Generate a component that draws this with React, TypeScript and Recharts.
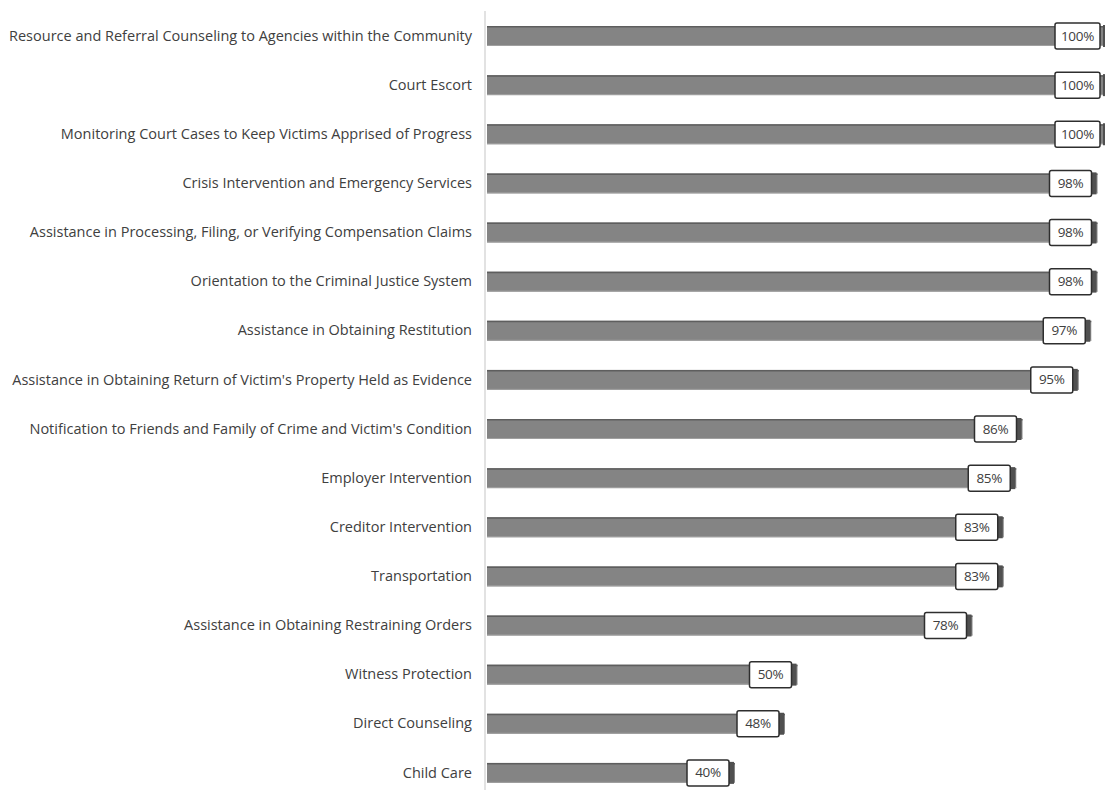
import React from "react";
import { Bar, BarChart, LabelList, XAxis, YAxis } from "recharts";

const categories = [
  "Resource and Referral Counseling to Agencies within the Community",
  "Court Escort",
  "Monitoring Court Cases to Keep Victims Apprised of Progress",
  "Crisis Intervention and Emergency Services",
  "Assistance in Processing, Filing, or Verifying Compensation Claims",
  "Orientation to the Criminal Justice System",
  "Assistance in Obtaining Restitution",
  "Assistance in Obtaining Return of Victim's Property Held as Evidence",
  "Notification to Friends and Family of Crime and Victim's Condition",
  "Employer Intervention",
  "Creditor Intervention",
  "Transportation",
  "Assistance in Obtaining Restraining Orders",
  "Witness Protection",
  "Direct Counseling",
  "Child Care",
];

const values = [100, 100, 100, 98, 98, 98, 97, 95, 86, 85, 83, 83, 78, 50, 48, 40];

const rows = categories.map((name, i) => ({ name, value: values[i] }));

const FONT = "'Open Sans', 'Noto Sans', sans-serif";

const BarShape = (props: any) => {
  const { x, y, width, height } = props;
  const end = x + width;
  const cy = y + height / 2;
  return (
    <g>
      <rect x={x + 2} y={y} width={width - 2} height={height} fill="#848484" />
      <line x1={x + 2} x2={end} y1={y + 0.75} y2={y + 0.75} stroke="#5e5e5e" strokeWidth={1.5} />
      <line x1={x + 2} x2={end} y1={y + height - 0.5} y2={y + height - 0.5} stroke="#a0a0a0" strokeWidth={1} />
      <rect x={end - 7} y={cy - 11} width={6} height={22} fill="#505050" />
    </g>
  );
};

const BoxLabel = (props: any) => {
  const { x, y, width, height, value } = props;
  const end = x + width;
  const right = Math.min(end - 6, 1100);
  const w = value >= 100 ? 45 : 42;
  const left = right - w;
  const cy = y + height / 2;
  return (
    <g>
      <rect
        x={left}
        y={cy - 13}
        width={w}
        height={26}
        rx={2}
        fill="#ffffff"
        stroke="#2e2e2e"
        strokeWidth={1.5}
      />
      <text
        x={left + w / 2}
        y={cy + 1}
        textAnchor="middle"
        dominantBaseline="middle"
        fontFamily={FONT}
        fontSize={13.5}
        letterSpacing={-0.3}
        fill="#404040"
      >
        {value}%
      </text>
    </g>
  );
};

export default function App() {
  return (
    <div
      style={{
        position: "absolute",
        left: 0,
        top: 0,
        width: 1105,
        height: 790,
        overflow: "hidden",
        background: "#ffffff",
      }}
    >
      <BarChart
        width={1120}
        height={800}
        data={rows}
        layout="vertical"
        margin={{ top: 11, right: 10, bottom: 3, left: 0 }}
      >
        <XAxis type="number" domain={[0, 100]} hide />
        <YAxis
          type="category"
          dataKey="name"
          width={485}
          interval={0}
          tickLine={false}
          tickSize={0}
          tickMargin={13}
          axisLine={{ stroke: "#d9d9d9", strokeWidth: 1.5 }}
          tick={{ fontSize: 14.5, fill: "#404040", fontFamily: FONT }}
        />
        <Bar dataKey="value" barSize={20} shape={<BarShape />} isAnimationActive={false}>
          <LabelList dataKey="value" content={<BoxLabel />} />
        </Bar>
      </BarChart>
    </div>
  );
}
